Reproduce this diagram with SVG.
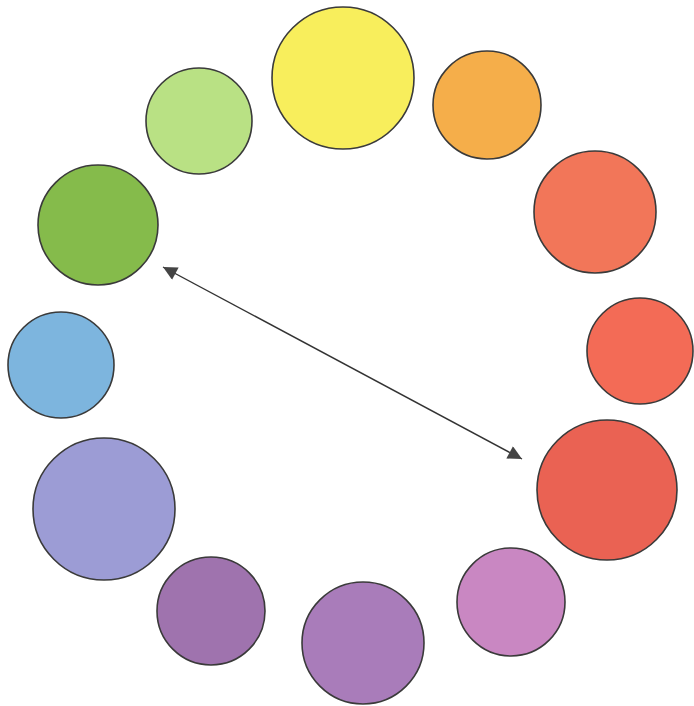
<svg xmlns="http://www.w3.org/2000/svg" width="694" height="706" viewBox="0 0 694 706">
<style>
.c{stroke:#3a3a3a;stroke-width:1.6}
.arr{stroke:#333;stroke-width:1.4;fill:none}
</style>
<defs>
<marker id="ah" viewBox="0 0 10 10" refX="10" refY="5" markerWidth="16" markerHeight="14" markerUnits="userSpaceOnUse" orient="auto-start-reverse">
<path d="M0,0 L10,5 L0,10 Z" fill="#444"/>
</marker>
</defs>
<rect width="694" height="706" fill="#fff"/>
<g id="yellow"><circle class="c" cx="343" cy="78" r="71" fill="#f8ee5c"/></g>
<g id="orange"><circle class="c" cx="487" cy="105" r="54" fill="#f5ae4a"/></g>
<g id="red-orange"><circle class="c" cx="595" cy="212" r="61" fill="#f27659"/></g>
<g id="red-orange-2"><circle class="c" cx="640" cy="351" r="53" fill="#f36b56"/></g>
<g id="red"><circle class="c" cx="607" cy="490" r="70" fill="#ea6253"/></g>
<g id="red-violet"><circle class="c" cx="511" cy="602" r="54" fill="#c987c2"/></g>
<g id="violet"><circle class="c" cx="363" cy="643" r="61" fill="#a97cba"/></g>
<g id="violet-2"><circle class="c" cx="211" cy="611" r="54" fill="#9f73ae"/></g>
<g id="blue-violet"><circle class="c" cx="104" cy="509" r="71" fill="#9c9cd5"/></g>
<g id="blue"><circle class="c" cx="61" cy="365" r="53" fill="#7db5de"/></g>
<g id="green"><circle class="c" cx="98" cy="225" r="60" fill="#85bb4b"/></g>
<g id="yellow-green"><circle class="c" cx="199" cy="121" r="53" fill="#b9e184"/></g>
<g id="connectors">
<line class="arr" x1="163" y1="267" x2="522" y2="459" marker-start="url(#ah)" marker-end="url(#ah)"/>
</g>
</svg>
